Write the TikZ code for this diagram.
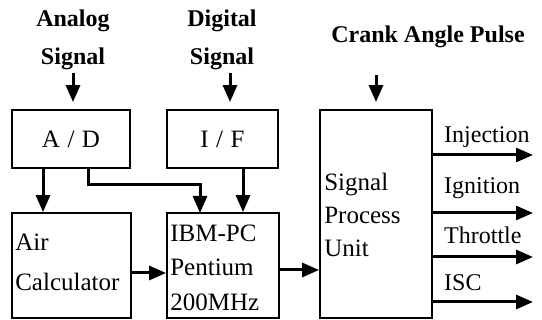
\documentclass[tikz,border=0pt]{standalone}
\usepackage{fontspec}
\setmainfont{Liberation Serif}
\usetikzlibrary{arrows.meta,calc}
\begin{document}
\begin{tikzpicture}[x=1pt,y=-1pt,
  box/.style={draw,line width=1.8pt,inner sep=0pt},
  lbl/.style={font=\fontsize{25}{34.5}\selectfont,inner sep=0pt},
  outl/.style={font=\fontsize{24}{30}\selectfont,inner sep=0pt},
  head/.style={font=\fontsize{24}{38}\selectfont\bfseries,align=center,inner sep=0pt},
  arr/.style={line width=3pt,-{Triangle[length=17pt,width=14pt]}},
]
\useasboundingbox (0,0) rectangle (542,320);
% boxes
\node[box,minimum width=118pt,minimum height=58pt,font=\fontsize{25}{34}\selectfont] (ad) at (71,139) {A\hspace{0.3em}/\hspace{0.3em}D};
\node[box,minimum width=111pt,minimum height=58pt,font=\fontsize{25}{34}\selectfont] (if) at (222.5,139) {I\hspace{0.3em}/\hspace{0.3em}F};
\node[box,minimum width=119pt,minimum height=105pt] (air) at (71.5,265.5) {};
\node[box,minimum width=112pt,minimum height=105pt] (ibm) at (223,265.5) {};
\node[box,minimum width=112pt,minimum height=208pt] (spu) at (376,214) {};
% box texts
\node[lbl,font=\fontsize{25}{40}\selectfont,anchor=west,align=left] (airt) at ([xshift=4pt,yshift=3pt]air.west) {Air\\Calculator};
\node[lbl,anchor=west,align=left] (ibmt) at ([xshift=4pt,yshift=-2pt]ibm.west) {IBM-PC\\Pentium\\200MHz};
\node[lbl,font=\fontsize{25}{33}\selectfont,anchor=west,align=left] (sput) at ([xshift=5pt,yshift=-1pt]spu.west) {Signal\\Process\\Unit};
% headings
\node[head] (analog) at (73,40) {Analog\\Signal};
\node[head] (digital) at (222,40) {Digital\\Signal};
\node[head] (crank) at (428,37) {Crank Angle Pulse};
% input arrows
\draw[arr,shorten >=7pt] ([yshift=-3pt]analog.south) -- (analog.south |- ad.north);
\draw[arr,shorten >=7pt] ([xshift=8pt,yshift=-3pt]digital.south) -- ([xshift=8pt]digital.south |- if.north);
\draw[arr,shorten >=7pt] (spu.north |- 0,75) -- (spu.north);
% internal arrows
\draw[arr] ([xshift=-28pt]ad.south) -- ([xshift=-28pt]ad.south |- air.north);
\draw[arr] ([xshift=17pt]ad.south) |- (200,185) -- (200,213);
\draw[arr] ([xshift=20.5pt]if.south) -- ([xshift=20.5pt]if.south |- ibm.north);
\draw[arr] ([yshift=-7.5pt]air.east) -- ([yshift=-7.5pt]air.east -| ibm.west);
\draw[arr] ([yshift=-4.5pt]ibm.east) -- ([yshift=-4.5pt]ibm.east -| spu.west);
% outputs
\foreach \n/\t/\ya/\yl in {o1/Injection/155/137, o2/Ignition/213/188, o3/Throttle/257/235, o4/ISC/302/283}{
  \coordinate (\n) at (533,\ya);
  \draw[arr] (spu.east |- \n) -- (\n);
  \node[outl,anchor=west] at (444,\yl) {\t};
}
\end{tikzpicture}
\end{document}
